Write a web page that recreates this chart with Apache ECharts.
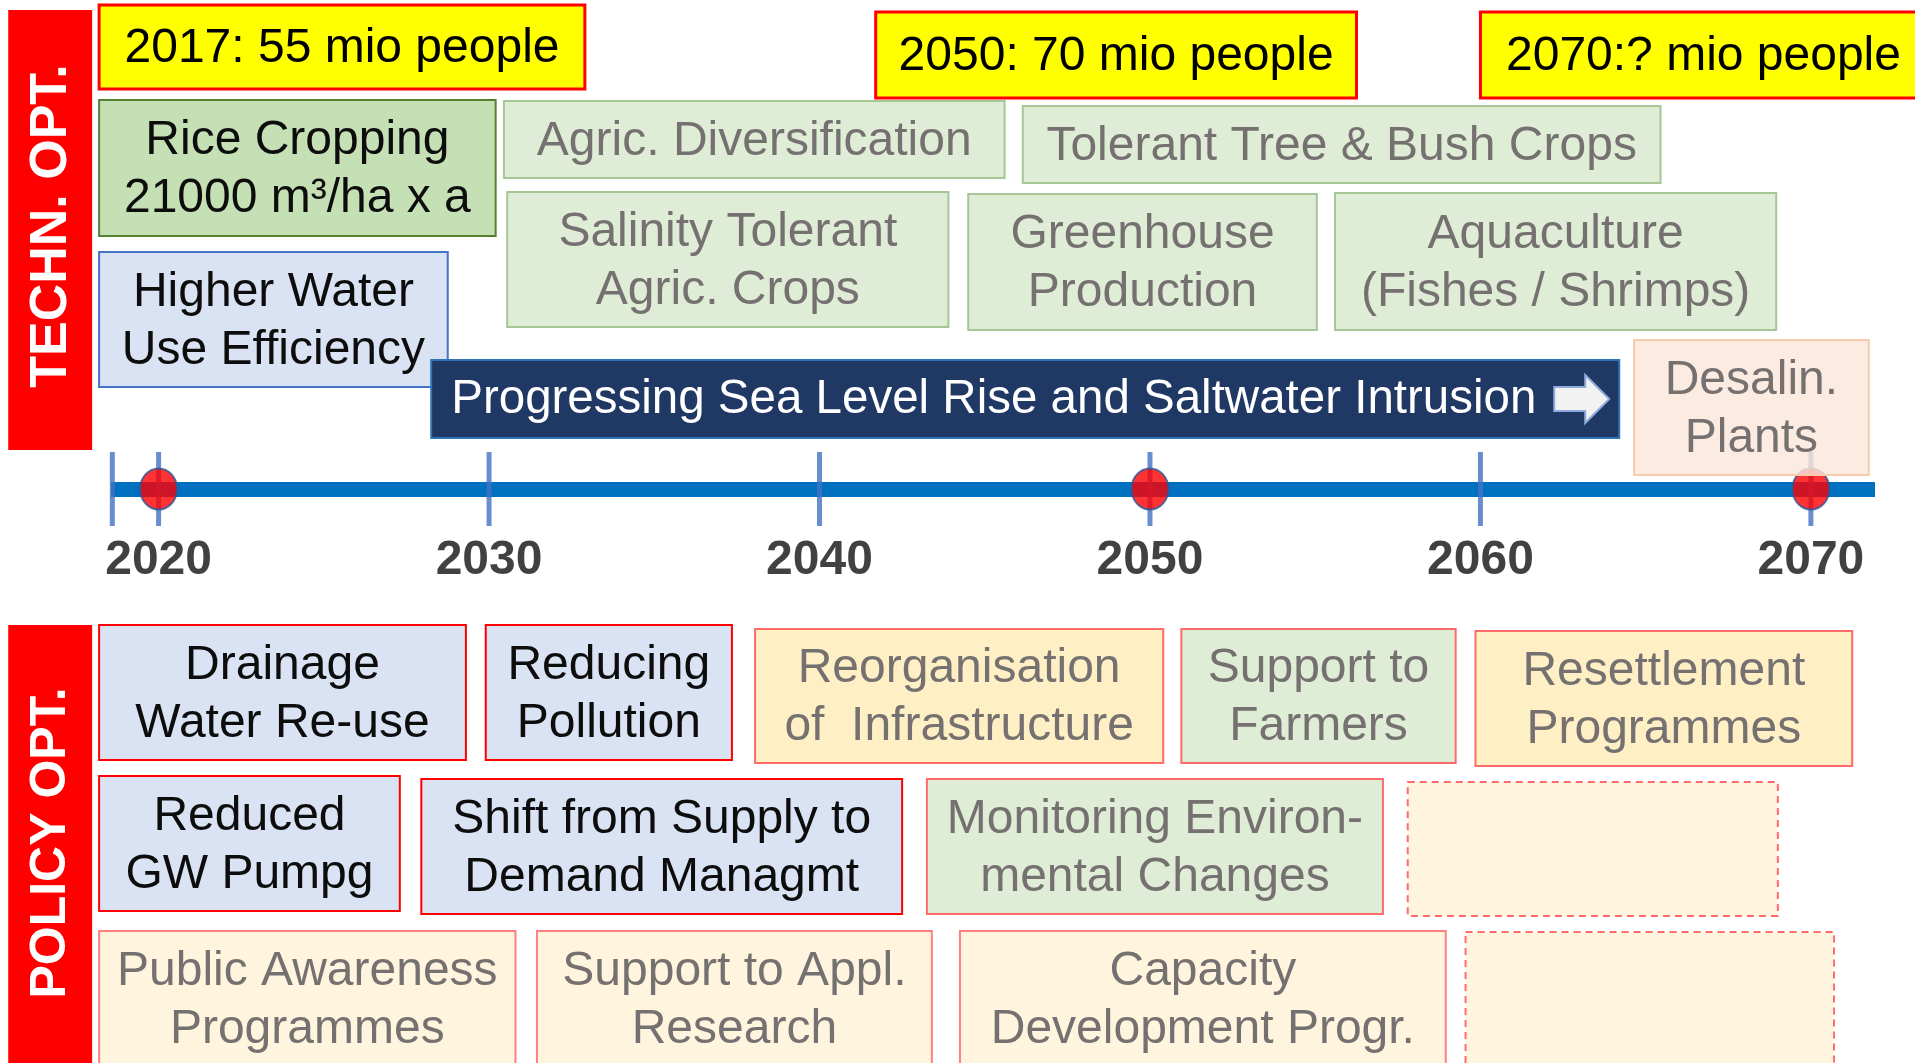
<!DOCTYPE html>
<html>
<head>
    <meta charset="utf-8">
    <title>Options timeline 2020-2070</title>
    <script src="https://cdnjs.cloudflare.com/ajax/libs/echarts/6.0.0/echarts.min.js"></script>
    <style>
        html, body { margin: 0; padding: 0; background: #fff; }
        #chart { width: 1915px; height: 1063px; }
    </style>
</head>
<body>
    <div id="chart"></div>
    <script>
        // time bar
        const timelineStart = 2018.56;
        const timelineEnd = 2071.94;
        const yearTicks = [2020, 2030, 2040, 2050, 2060, 2070];
        const milestoneYears = [2020, 2050, 2070];

        // boxes: label, years covered, level above (+) / below (-) the time bar, kind
        const boxLabels = [
            '2017: 55 mio people', '2050: 70 mio people', '2070:? mio people',
            'Rice Cropping\n21000 m³/ha x a', 'Agric. Diversification', 'Tolerant Tree & Bush Crops',
            'Higher Water\nUse Efficiency', 'Salinity Tolerant\nAgric. Crops', 'Greenhouse\nProduction',
            'Aquaculture\n(Fishes / Shrimps)',
            'Progressing Sea Level Rise and Saltwater Intrusion', 'Desalin.\nPlants',
            'Drainage\nWater Re-use', 'Reducing\nPollution', 'Reorganisation\nof  Infrastructure',
            'Support to\nFarmers', 'Resettlement\nProgrammes',
            'Reduced\nGW Pumpg', 'Shift from Supply to\nDemand Managmt', 'Monitoring Environ-\nmental Changes', '',
            'Public Awareness\nProgrammes', 'Support to Appl.\nResearch', 'Capacity\nDevelopment Progr.', ''
        ];
        const boxFrom = [
            2018.2, 2041.7, 2060.0,
            2018.2, 2030.45, 2046.15,
            2018.2, 2030.55, 2044.5, 2055.6,
            2028.25, 2064.65,
            2018.2, 2029.9, 2038.05, 2050.95, 2059.85,
            2018.2, 2027.95, 2043.25, 2057.8,
            2018.2, 2031.45, 2044.25, 2059.55
        ];
        const boxTo = [
            2032.9, 2056.25, 2073.5,
            2030.2, 2045.6, 2065.45,
            2028.75, 2043.9, 2055.05, 2068.95,
            2064.2, 2071.75,
            2029.3, 2037.35, 2050.4, 2059.25, 2071.25,
            2027.3, 2042.5, 2057.05, 2069.0,
            2030.8, 2043.4, 2058.95, 2070.7
        ];
        const boxTop = [
            48.4, 47.7, 47.7,
            38.9, 38.8, 38.3,
            23.7, 29.7, 29.5, 29.6,
            12.9, 14.9,
            -13.6, -13.6, -14.0, -14.0, -14.2,
            -28.7, -29.0, -29.0, -29.3,
            -44.2, -44.2, -44.2, -44.3
        ];
        const boxBottom = [
            40.0, 39.1, 39.1,
            25.3, 31.1, 30.6,
            10.2, 16.2, 15.9, 15.9,
            5.1, 1.4,
            -27.1, -27.1, -27.4, -27.4, -27.7,
            -42.2, -42.5, -42.5, -42.7,
            -57.8, -57.8, -57.8, -57.8
        ];
        const boxKind = [
            'pop', 'pop', 'pop',
            'rice', 'techSoft', 'techSoft',
            'techCore', 'techSoft', 'techSoft', 'techSoft',
            'trend', 'desalin',
            'policyCore', 'policyCore', 'policyWarm', 'policyGreen', 'policyWarm',
            'policyCore', 'policyCore', 'policyGreen', 'open',
            'policySoft', 'policySoft', 'policySoft', 'open'
        ];

        // side bars
        const sectionLabels = ['TECHN. OPT.', 'POLICY OPT.'];
        const sectionFrom = [2015.45, 2015.45];
        const sectionTo = [2017.99, 2017.99];
        const sectionTop = [47.9, -13.6];
        const sectionBottom = [3.9, -58.0];
        const sectionTextAt = [26.3, -35.4];

        const yearLabelLevel = -7.2;

        const FONT = '"Liberation Sans", Arial, sans-serif';
        const GRAY = '#767171';
        const kindStyle = {
            pop:         { fill: '#ffff00', stroke: '#ff0000', lw: 3, color: '#000' },
            rice:        { fill: '#c5e0b4', stroke: '#548235', lw: 2, color: '#0d0d0d' },
            techSoft:    { fill: '#dfecd6', stroke: '#a6c795', lw: 2, color: GRAY },
            techCore:    { fill: '#dae3f3', stroke: '#4472c4', lw: 2, color: '#0d0d0d' },
            trend:       { fill: '#203864', stroke: '#2e75b6', lw: 2, color: '#ffffff' },
            desalin:     { fill: 'rgba(251,231,219,0.82)', stroke: '#f8cbad', lw: 2, color: GRAY },
            policyCore:  { fill: '#dae3f3', stroke: '#ff0000', lw: 2, color: '#0d0d0d' },
            policyWarm:  { fill: '#ffefc5', stroke: '#ff6b6b', lw: 2, color: GRAY },
            policyGreen: { fill: '#dfecd6', stroke: '#ff6b6b', lw: 2, color: GRAY },
            policySoft:  { fill: '#fff5de', stroke: '#ff8080', lw: 2, color: GRAY },
            open:        { fill: '#fff5de', stroke: '#ff6b6b', lw: 2, color: GRAY, dash: [7, 5] }
        };

        const boxData = boxLabels.map((t, i) => [boxFrom[i], boxTo[i], boxTop[i], boxBottom[i], i]);
        const sectionData = sectionLabels.map((t, i) =>
            [sectionFrom[i], sectionTo[i], sectionTop[i], sectionBottom[i], i, sectionTextAt[i]]);

        function renderBox(params, api) {
            const i = api.value(4);
            const a = api.coord([api.value(0), api.value(2)]);
            const b = api.coord([api.value(1), api.value(3)]);
            const st = kindStyle[boxKind[i]];
            const x = a[0], y = a[1], w = b[0] - a[0], h = b[1] - a[1];
            const children = [{
                type: 'rect',
                shape: { x: x, y: y, width: w, height: h },
                style: { fill: st.fill, stroke: st.stroke, lineWidth: st.lw, lineDash: st.dash || null }
            }];
            const label = boxLabels[i];
            if (boxKind[i] === 'trend') {
                children.push({
                    type: 'text',
                    style: {
                        text: label, x: x + 20, y: y + h / 2 + 1,
                        align: 'left', verticalAlign: 'middle',
                        fill: st.color, font: '47.5px ' + FONT
                    }
                });
                // block arrow at the right end of the banner
                const r = x + w - 10, cy = y + h / 2;
                children.push({
                    type: 'polygon',
                    shape: {
                        points: [
                            [r - 55, cy - 12], [r - 24, cy - 12], [r - 24, cy - 24], [r, cy],
                            [r - 24, cy + 24], [r - 24, cy + 12], [r - 55, cy + 12]
                        ]
                    },
                    style: { fill: '#f2f2f2', stroke: '#8faadc', lineWidth: 2 }
                });
            } else if (label) {
                children.push({
                    type: 'text',
                    style: {
                        text: label, x: x + w / 2, y: y + h / 2 + 2,
                        align: 'center', verticalAlign: 'middle',
                        fill: st.color, font: '48px ' + FONT, lineHeight: 58
                    }
                });
            }
            return { type: 'group', children: children };
        }

        function renderSection(params, api) {
            const i = api.value(4);
            const a = api.coord([api.value(0), api.value(2)]);
            const b = api.coord([api.value(1), api.value(3)]);
            const t = api.coord([api.value(0), api.value(5)]);
            return {
                type: 'group',
                children: [{
                    type: 'rect',
                    shape: { x: a[0], y: a[1], width: b[0] - a[0], height: b[1] - a[1] },
                    style: { fill: '#ff0000' }
                }, {
                    type: 'text',
                    x: (a[0] + b[0]) / 2 + 1,
                    y: t[1],
                    rotation: Math.PI / 2,
                    style: {
                        text: sectionLabels[i], x: 0, y: 0,
                        align: 'center', verticalAlign: 'middle',
                        fill: '#ffffff', font: 'bold ' + (i === 0 ? 52 : 50) + 'px ' + FONT
                    }
                }]
            };
        }

        const chart = echarts.init(document.getElementById('chart'));
        chart.setOption({
            animation: false,
            backgroundColor: '#ffffff',
            grid: { left: 111, right: 40, top: 0, bottom: 0, containLabel: false, outerBoundsMode: 'none' },
            xAxis: {
                type: 'value',
                min: timelineStart,
                max: timelineEnd,
                position: 'bottom',
                axisLine: { show: true, onZero: true, lineStyle: { color: '#0070c0', width: 15, cap: 'butt' } },
                axisTick: { show: false },
                splitLine: { show: false },
                axisLabel: { show: false }
            },
            yAxis: {
                type: 'value',
                min: -57.4,
                max: 48.9,
                show: false,
                splitLine: { show: false }
            },
            series: [
                {
                    // tick marks crossing the bar
                    type: 'scatter',
                    z: 2,
                    symbol: 'rect',
                    symbolSize: [5, 74],
                    itemStyle: { color: '#4472c4' },
                    data: [timelineStart + 0.04].concat(yearTicks).map(v => [v, 0]),
                    silent: true
                },
                {
                    type: 'scatter',
                    z: 3,
                    symbol: 'path://M0,-1A1,1 0 1,1 0,1A1,1 0 1,1 0,-1Z',
                    symbolKeepAspect: false,
                    symbolSize: [37, 41],
                    itemStyle: { color: '#ff0000', borderColor: '#2f5597', borderWidth: 2 },
                    data: milestoneYears.map(v => [v, 0]),
                    silent: true
                },
                {
                    // year labels under the bar
                    type: 'scatter',
                    z: 3,
                    symbolSize: 0,
                    data: yearTicks.map(v => [v, yearLabelLevel]),
                    label: {
                        show: true,
                        position: 'inside',
                        formatter: p => String(p.value[0]),
                        color: '#111111',
                        fontFamily: FONT,
                        fontWeight: 'bold',
                        fontSize: 48
                    },
                    silent: true
                },
                {
                    type: 'custom',
                    z: 5,
                    clip: false,
                    renderItem: renderBox,
                    data: boxData,
                    silent: true
                },
                {
                    type: 'custom',
                    z: 5,
                    clip: false,
                    renderItem: renderSection,
                    data: sectionData,
                    silent: true
                }
            ]
        });
    </script>
</body>
</html>
